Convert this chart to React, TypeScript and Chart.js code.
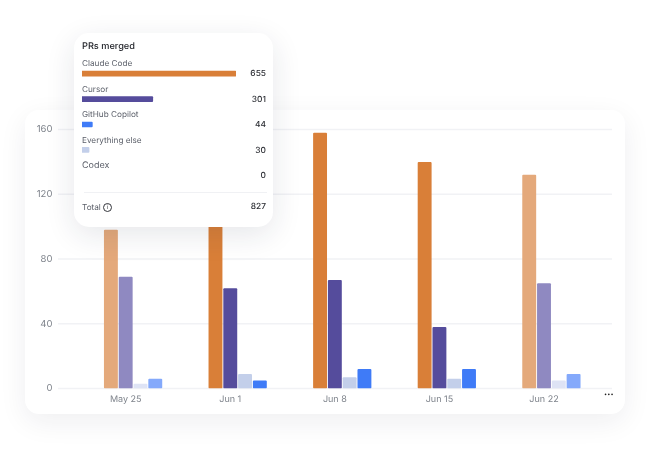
import { Chart, registerables } from 'chart.js';
import type { Plugin } from 'chart.js';
import { useEffect, useRef } from 'react';

Chart.register(...registerables);

const weeks = ['May 25', 'Jun 1', 'Jun 8', 'Jun 15', 'Jun 22'];
const yTicks = [0, 40, 80, 120, 160];

// codex goes first, its empty slot is why the groups sit off centre of the labels
const codex = [0, 0, 0, 0, 0];
const claudeCode = [98, 127, 158, 140, 132];
const cursor = [69, 62, 67, 38, 65];
const everythingElse = [3, 9, 7, 6, 5];
const copilot = [6, 5, 12, 12, 9];

const tooltipNames = ['Claude Code', 'Cursor', 'GitHub Copilot', 'Everything else', 'Codex'];
const tooltipValues = [655, 301, 44, 30, 0];
const tooltipColors = ['#D97F38', '#554C9C', '#3F7BF7', '#C3CFEA', 'transparent'];
const total = 827;

// first and last week are partial periods, drawn lighter
const shade = (full: string, light: string) => [light, full, full, full, light];

const gridLines: Plugin<'bar'> = {
  id: 'gridLines',
  beforeDraw(chart) {
    // unhinted advances, otherwise small Inter comes out too wide
    (chart.ctx as any).textRendering = 'geometricPrecision';
  },
  beforeDatasetsDraw(chart) {
    const { ctx, scales } = chart;
    ctx.save();
    ctx.strokeStyle = '#F1F2F5';
    ctx.lineWidth = 1.4;
    yTicks.forEach((t) => {
      const y = scales.y.getPixelForValue(t);
      ctx.beginPath();
      ctx.moveTo(58, y);
      ctx.lineTo(612, y);
      ctx.stroke();
    });
    ctx.restore();
  },
};

const App = () => {
  const barRef = useRef<HTMLCanvasElement | null>(null);
  const tipRef = useRef<HTMLCanvasElement | null>(null);

  useEffect(() => {
    if (!barRef.current || !tipRef.current) return;

    const bar = {
      categoryPercentage: 0.707,
      barPercentage: 0.94,
      borderRadius: 1,
      borderSkipped: false,
    };

    const barChart = new Chart(barRef.current, {
      type: 'bar',
      data: {
        labels: weeks,
        datasets: [
          { label: 'Codex', data: codex, backgroundColor: 'transparent', ...bar },
          { label: 'Claude Code', data: claudeCode, backgroundColor: shade('#D97F38', '#E4A97B'), ...bar },
          { label: 'Cursor', data: cursor, backgroundColor: shade('#554C9C', '#8F89C1'), ...bar },
          { label: 'Everything else', data: everythingElse, backgroundColor: shade('#C3CFEA', '#DEE3F5'), ...bar },
          { label: 'GitHub Copilot', data: copilot, backgroundColor: shade('#3F7BF7', '#84A9FB'), ...bar },
        ],
      },
      options: {
        responsive: false,
        animation: false,
        layout: { padding: { top: 129.5, right: 53.7 } },
        plugins: { legend: { display: false }, tooltip: { enabled: false } },
        scales: {
          x: {
            grid: { display: false, drawTicks: false },
            border: { display: false },
            afterFit: (s) => {
              s.height = 61.5;
            },
            ticks: {
              color: '#7F848C',
              padding: 5,
              maxRotation: 0,
              font: { family: 'Inter', size: 9 },
            },
          },
          y: {
            min: 0,
            max: 160,
            grid: { display: false, drawTicks: false },
            border: { display: false },
            afterFit: (s) => {
              s.width = 73.4;
            },
            ticks: {
              stepSize: 40,
              color: '#7F848C',
              padding: 21,
              font: { family: 'Inter', size: 9.5 },
            },
          },
        },
      },
      plugins: [gridLines],
    });

    const tipChart = new Chart(tipRef.current, {
      type: 'bar',
      data: {
        labels: tooltipNames,
        datasets: [
          {
            data: tooltipValues,
            backgroundColor: tooltipColors,
            barThickness: 5,
            borderRadius: 1,
          },
        ],
      },
      options: {
        indexAxis: 'y',
        responsive: false,
        animation: false,
        plugins: { legend: { display: false }, tooltip: { enabled: false } },
        scales: {
          x: { display: false, min: 0, max: 655 },
          y: { display: false },
        },
      },
    });

    return () => {
      barChart.destroy();
      tipChart.destroy();
    };
  }, []);

  return (
    <div
      style={{
        position: 'fixed',
        left: 0,
        top: 0,
        width: 650,
        height: 450,
        background: '#fff',
        overflow: 'hidden',
        fontFamily: 'Inter, sans-serif',
        textRendering: 'geometricPrecision',
      }}
    >
      <div
        style={{
          position: 'absolute',
          left: 25,
          top: 110,
          width: 600,
          height: 304,
          borderRadius: 14,
          background: '#fff',
          boxShadow: '0 8px 28px rgba(30,35,60,0.07)',
        }}
      />
      <canvas ref={barRef} width={650} height={450} style={{ position: 'absolute', left: 0, top: 0 }} />
      <div style={{ position: 'absolute', left: 604, top: 391, fontSize: 5.5, letterSpacing: 0.2, lineHeight: '8px', color: '#222' }}>
        •••
      </div>

      <div
        style={{
          position: 'absolute',
          left: 74,
          top: 33,
          width: 199,
          height: 194,
          borderRadius: 15,
          background: '#fff',
          boxShadow: '0 8px 30px rgba(30,35,60,0.11)',
        }}
      >
        <div style={{ position: 'absolute', left: 8, top: 7, lineHeight: '14px', fontSize: 9.2, fontWeight: 500, color: '#23252B' }}>
          PRs merged
        </div>
        {tooltipNames.map((name, i) => (
          <div key={name}>
            <div
              style={{
                position: 'absolute',
                left: 8,
                top: (name === 'Codex' ? 24.3 : 23.3) + i * 25.5,
                lineHeight: '14px',
                fontSize: name === 'Codex' ? 9 : 8.2,
                color: '#5C606A',
              }}
            >
              {name}
            </div>
            <div
              style={{
                position: 'absolute',
                right: 7,
                top: 34.2 + i * 25.5,
                lineHeight: '14px',
                fontSize: 8.4,
                fontWeight: 500,
                color: '#2B2D33',
              }}
            >
              {tooltipValues[i]}
            </div>
          </div>
        ))}
        <div style={{ position: 'absolute', left: 10, right: 6, top: 159, height: 1, background: '#F0F1F4' }} />
        <div style={{ position: 'absolute', left: 8, top: 167, lineHeight: '14px', fontSize: 8.2, color: '#5C606A' }}>Total</div>
        <div
          style={{
            position: 'absolute',
            left: 29,
            top: 170,
            width: 7,
            height: 7,
            border: '1px solid #34363C',
            borderRadius: '50%',
            fontSize: 6,
            lineHeight: '7px',
            textAlign: 'center',
            color: '#34363C',
          }}
        >
          i
        </div>
        <div style={{ position: 'absolute', right: 7, top: 167, lineHeight: '14px', fontSize: 8.4, fontWeight: 500, color: '#2B2D33' }}>
          {total}
        </div>
        <canvas ref={tipRef} width={154} height={127} style={{ position: 'absolute', left: 8, top: 28 }} />
      </div>
    </div>
  );
};

export default App;
